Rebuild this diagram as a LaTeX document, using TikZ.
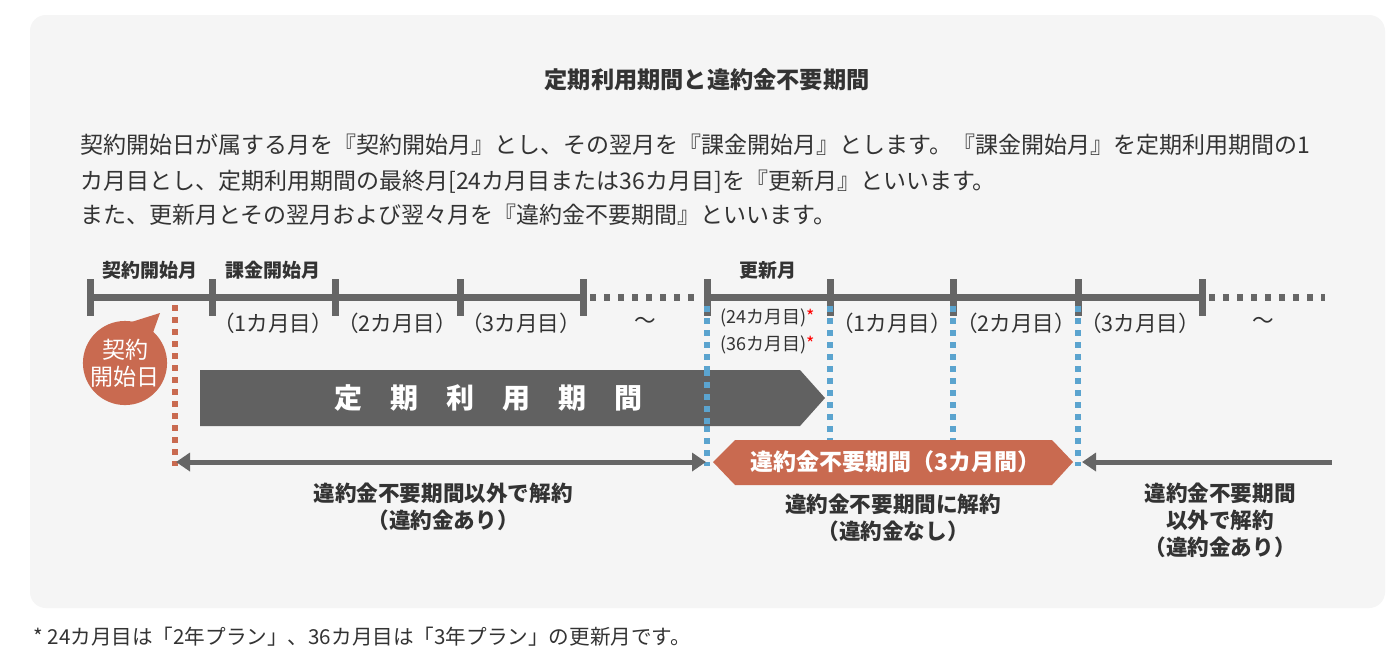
\documentclass[tikz,border=0pt]{standalone}
\usepackage{fontspec}
\setmainfont{Noto Sans CJK JP}
\usetikzlibrary{arrows.meta}
\definecolor{panel}{HTML}{F5F5F5}
\definecolor{bar}{HTML}{666666}
\definecolor{rust}{HTML}{C96A50}
\definecolor{sky}{HTML}{5BA4CF}
\definecolor{txt}{HTML}{333333}
\tikzset{
  month/.style={font=\fontsize{9.5}{11}\selectfont\bfseries, text=txt, inner sep=1pt},
  count/.style={font=\fontsize{10.8}{12}\selectfont, text=txt, inner sep=1pt},
  small/.style={font=\fontsize{9}{10}\selectfont, text=txt, inner sep=1pt},
  note/.style={font=\fontsize{10.8}{13.5}\selectfont\bfseries, text=txt, align=center, inner sep=1pt},
  para/.style={anchor=west, font=\fontsize{11.5}{13}\selectfont, text=txt, inner sep=0},
  tick/.style={bar, line width=3.5pt},
  axis/.style={bar, line width=3.5pt},
  gap/.style={bar, line width=3.5pt, dash pattern=on 3pt off 4pt},
  redline/.style={rust, line width=3pt, dash pattern=on 3pt off 3pt},
  blueline/.style={sky, line width=3pt, dash pattern=on 3pt off 3pt},
  span/.style={bar, line width=2.5pt, {Triangle[length=7pt,width=9pt]}-{Triangle[length=7pt,width=9pt]}},
}
\begin{document}
\begin{tikzpicture}[x=0.5pt, y=-0.5pt]
	\useasboundingbox (0,0) rectangle (1400,660);
	\fill[white] (0,0) rectangle (1400,660);
	\fill[panel, rounded corners=8pt] (30,15) rectangle (1385,608);
	% title and text
	\node[font=\fontsize{11.6}{13}\selectfont\bfseries, text=txt] (title) at (707,80) {定期利用期間と違約金不要期間};
	\node[para] (p1) at (80,145) {契約開始日が属する月を『契約開始月』とし、その翌月を『課金開始月』とします。『課金開始月』を定期利用期間の1};
	\node[para] (p2) at (80,182) {カ月目とし、定期利用期間の最終月[24カ月目または36カ月目]を『更新月』といいます。};
	\node[para] (p3) at (80,215) {また、更新月とその翌月および翌々月を『違約金不要期間』といいます。};
	% timeline
	\draw[axis] (90,297) -- (583,297);
	\draw[gap] (590,297) -- (700,297);
	\draw[axis] (707,297) -- (1202,297);
	\draw[gap] (1209,297) -- (1325,297);
	\foreach \x in {90,212,335,460,583,707,830,953,1078,1202}
		\draw[tick] (\x,279) -- (\x,316);
	% dotted markers
	\draw[redline] (175,305) -- (175,466);
	\foreach \x in {707,830,953,1078}
		\draw[blueline] (\x,306) -- (\x,466);
	% month labels
	\node[month] (m0) at (150,270) {契約開始月};
	\node[month] (m1) at (273,270) {課金開始月};
	\node[month] (mr) at (768,270) {更新月};
	\node[count] (c1) at (273,323) {（1カ月目）};
	\node[count] (c2) at (397,323) {（2カ月目）};
	\node[count] (c3) at (521,323) {（3カ月目）};
	\node[count] (c4) at (645,323) {〜};
	\node[small] (r24) at (768,318) {(24カ月目)\textcolor{red}{*}};
	\node[small] (r36) at (768,345) {(36カ月目)\textcolor{red}{*}};
	\node[count] (d1) at (892,323) {（1カ月目）};
	\node[count] (d2) at (1016,323) {（2カ月目）};
	\node[count] (d3) at (1140,323) {（3カ月目）};
	\node[count] (d4) at (1263,323) {〜};
	% bubble
	\fill[rust] (106,330) -- (160,313) -- (145,355) -- cycle;
	\node[circle, fill=rust, minimum size=41pt, text=white, align=center, font=\fontsize{11.5}{13.5}\selectfont, inner sep=0] (start) at (125,363) {契約\\開始日};
	% fixed period banner
	\fill[bar!95!black] (200,370) -- (800,370) -- (825,398) -- (800,426) -- (200,426) -- cycle;
	\draw[sky, line width=3pt, dash pattern=on 3pt off 3pt] (707,370) -- (707,426);
	\node[text=white, font=\fontsize{14}{15}\selectfont\bfseries] (fixed) at (488,398) {定\hspace{1em}期\hspace{1em}利\hspace{1em}用\hspace{1em}期\hspace{1em}間};
	% free period
	\fill[rust] (713,462) -- (735,440) -- (1052,440) -- (1073,462) -- (1052,485) -- (735,485) -- cycle;
	\node[text=white, font=\fontsize{11.5}{13}\selectfont\bfseries] (free) at (895,462) {違約金不要期間（3カ月間）};
	% spans
	\coordinate (s1) at (176,462);
	\coordinate (s2) at (706,462);
	\coordinate (s3) at (1082,462);
	\coordinate (s4) at (1332,462);
	\draw[span] (s1) -- (s2);
	\draw[bar, line width=2.5pt, {Triangle[length=7pt,width=9pt]}-] (s3) -- (s4);
	\node[note] (n1) at (443,507) {違約金不要期間以外で解約\\（違約金あり）};
	\node[note] (n2) at (893,518) {違約金不要期間に解約\\（違約金なし）};
	\node[note] (n3) at (1220,520) {違約金不要期間\\以外で解約\\（違約金あり）};
	% footnote
	\node[anchor=west, font=\fontsize{10.3}{12}\selectfont, text=txt, inner sep=0] (foot) at (33,637) {* 24カ月目は「2年プラン」、36カ月目は「3年プラン」の更新月です。};
\end{tikzpicture}
\end{document}
